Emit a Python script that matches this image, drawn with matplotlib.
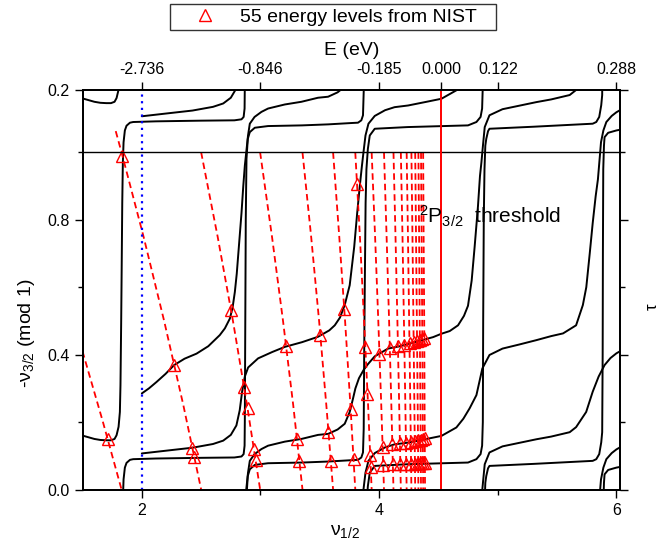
import matplotlib
matplotlib.use("Agg")
import matplotlib.pyplot as plt
from matplotlib.lines import Line2D
import numpy as np

plt.rcParams['font.family'] = ['Liberation Sans', 'DejaVu Sans']
plt.rcParams['mathtext.fontset'] = 'custom'
plt.rcParams['mathtext.rm'] = 'Liberation Sans'
plt.rcParams['mathtext.it'] = 'Liberation Sans:italic'
plt.rcParams['mathtext.default'] = 'regular'

# black MQDT curves, -nu_3/2 (unwrapped, shown mod 1)
b_nu = [1.50, 1.55, 1.60, 1.65, 1.70, 1.74, 1.77, 1.787, 1.804, 1.815, 1.820, 1.826, 1.830, 1.835,
        1.840, 1.846, 1.857, 1.871, 1.90, 1.927, 2.12, 2.50, 2.78, 2.84, 2.858, 2.866, 2.868, 2.872,
        2.876, 2.882, 2.893, 2.91, 2.952, 3.064, 3.35, 3.57, 3.767, 3.822, 3.85, 3.864, 3.870, 3.874,
        3.879, 3.886, 3.893, 3.905, 3.921, 3.963, 4.24, 4.749, 4.82, 4.855, 4.868, 4.874, 4.877,
        4.882, 4.888, 4.895, 4.903, 4.918, 4.93, 5.30, 5.80, 5.83, 5.855, 5.872, 5.880, 5.884,
        5.886, 5.889, 5.895, 5.90, 5.93, 6.00, 6.03]
b_val = [0.160, 0.155, 0.150, 0.147, 0.146, 0.146, 0.150, 0.161, 0.186, 0.230, 0.310, 0.500, 0.650,
         0.850, 0.970, 1.030, 1.065, 1.079, 1.088, 1.090, 1.092, 1.094, 1.095, 1.098, 1.105, 1.130,
         1.200, 1.500, 1.800, 1.980, 2.040, 2.060, 2.073, 2.078, 2.080, 2.083, 2.087, 2.088, 2.095,
         2.110, 2.180, 2.400, 2.600, 2.850, 2.950, 3.010, 3.050, 3.070, 3.075, 3.080, 3.090, 3.105,
         3.130, 3.200, 3.500, 3.800, 3.950, 4.020, 4.040, 4.063, 4.070, 4.076, 4.085, 4.090, 4.105,
         4.140, 4.170, 4.400, 4.700, 4.950, 5.020, 5.045, 5.058, 5.065, 5.067]

s1_nu = [2.00, 2.20, 2.427, 2.60, 2.686, 2.75, 2.797, 2.825, 2.845, 2.868, 2.896, 2.98, 3.10, 3.205,
         3.35, 3.485, 3.58, 3.626, 3.67, 3.71, 3.752, 3.79, 3.815, 3.837, 3.855, 3.868, 3.885, 3.91,
         3.963, 4.05, 4.13, 4.244, 4.40, 4.525, 4.651, 4.71, 4.763, 4.82, 4.87, 4.93, 5.04, 5.18,
         5.325, 5.45, 5.55, 5.66, 5.717, 5.746, 5.775, 5.80, 5.825, 5.844, 5.87, 5.89, 5.915, 5.96,
         6.00, 6.03]
s1_val = [0.107, 0.115, 0.124, 0.135, 0.145, 0.162, 0.190, 0.235, 0.290, 0.335, 0.362, 0.389, 0.408,
          0.423, 0.437, 0.453, 0.472, 0.487, 0.510, 0.547, 0.606, 0.720, 0.820, 0.900, 0.960, 1.000,
          1.050, 1.085, 1.108, 1.125, 1.134, 1.139, 1.150, 1.159, 1.184, 1.210, 1.241, 1.280, 1.359,
          1.399, 1.418, 1.430, 1.443, 1.455, 1.463, 1.487, 1.547, 1.600, 1.700, 1.790, 1.870, 1.920,
          2.030, 2.065, 2.090, 2.108, 2.119, 2.125]

s2_nu = [2.00, 2.06, 2.124, 2.20, 2.272, 2.36, 2.461, 2.56, 2.657, 2.70, 2.742, 2.765, 2.784, 2.80,
         2.82, 2.84, 2.855, 2.868, 2.88, 2.895, 2.91, 2.95, 3.008, 3.064, 3.205, 3.345, 3.485, 3.57,
         3.65, 3.71, 3.752, 3.78, 3.80, 3.83, 3.87, 3.906, 3.963, 4.075, 4.174, 4.30, 4.455, 4.525,
         4.595, 4.665, 4.715, 4.749, 4.78, 4.805, 4.833, 4.85, 4.862, 4.875, 4.89, 4.93, 5.04, 5.325,
         5.45, 5.606, 5.66, 5.745, 5.80, 5.85, 5.90, 5.95, 6.00, 6.03]
s2_val = [0.285, 0.300, 0.319, 0.343, 0.369, 0.388, 0.403, 0.425, 0.458, 0.478, 0.507, 0.540, 0.586,
          0.640, 0.730, 0.820, 0.900, 0.960, 1.000, 1.050, 1.085, 1.105, 1.120, 1.130, 1.142, 1.150,
          1.162, 1.165, 1.178, 1.195, 1.230, 1.270, 1.300, 1.330, 1.355, 1.372, 1.395, 1.418, 1.425,
          1.437, 1.452, 1.462, 1.470, 1.487, 1.515, 1.545, 1.620, 1.720, 1.840, 1.930, 1.970, 2.020,
          2.075, 2.110, 2.128, 2.149, 2.157, 2.170, 2.185, 2.230, 2.290, 2.335, 2.369, 2.390, 2.404,
          2.410]

# red dashed branches (-nu_3/2 mod 1 at fixed energy), x at the levels below
red_levels = [1.0, 0.75, 0.5, 0.25, 0.0]
red_x = [
    [1.829, 2.0145, 2.188, 2.350, 2.500],
    [2.500, 2.639, 2.768, 2.887, 2.997],
    [2.997, 3.097, 3.190, 3.276, 3.354],
    [3.354, 3.427, 3.494, 3.555, 3.612],
    [3.612, 3.664, 3.713, 3.758, 3.799],
    [3.799, 3.838, 3.873, 3.907, 3.937],
    [3.937, 3.966, 3.993, 4.018, 4.041],
    [4.041, 4.063, 4.084, 4.103, 4.121],
    [4.121, 4.138, 4.154, 4.169, 4.183],
    [4.183, 4.197, 4.209, 4.221, 4.232],
    [4.232, 4.243, 4.253, 4.263, 4.272],
    [4.272, 4.281, 4.289, 4.297, 4.304],
    [4.304, 4.311, 4.318, 4.325, 4.331],
    [4.331, 4.337, 4.342, 4.348, 4.353],
    [4.353, 4.358, 4.363, 4.367, 4.371],
    [4.371, 4.375, 4.380, 4.383, 4.387],
]
red_first_x = [1.50, 1.67, 1.829]
red_first_y = [0.41, 0.203, 0.0]
red_top_x = [1.78, 1.829]
red_top_y = [1.063, 1.0]

# NIST levels
tri_nu = [1.711, 1.829, 2.273, 2.426, 2.442, 2.751, 2.862, 2.891, 2.944, 2.959,
          3.216, 3.307, 3.327, 3.504, 3.573, 3.593, 3.703, 3.760, 3.785,
          3.814, 3.883, 3.901, 3.925, 3.929, 4.002, 4.029, 4.034,
          4.090, 4.111, 4.116, 4.158, 4.175, 4.178, 4.212, 4.226, 4.229,
          4.256, 4.267, 4.269, 4.291, 4.300, 4.302, 4.320, 4.327, 4.329,
          4.343, 4.350, 4.351, 4.363, 4.369, 4.370, 4.381, 4.385, 4.386]
tri_val = [0.150, 0.990, 0.369, 0.124, 0.097, 0.532, 0.303, 0.241, 0.120, 0.087,
           0.425, 0.150, 0.085, 0.458, 0.171, 0.085, 0.535, 0.239, 0.090,
           0.905, 0.423, 0.282, 0.102, 0.068, 0.403, 0.125, 0.072,
           0.420, 0.135, 0.075, 0.425, 0.137, 0.076, 0.430, 0.139, 0.076,
           0.434, 0.142, 0.077, 0.437, 0.144, 0.077, 0.440, 0.146, 0.078,
           0.443, 0.148, 0.078, 0.446, 0.150, 0.079, 0.449, 0.152, 0.079]

e_nu = [2, 3, 4, 4.523, 5, 6]
e_labels = ['-2.736', '-0.846', '-0.185', '0.000', '0.122', '0.288']
y_ticks = [0.0, 0.4, 0.8, 1.185]
y_labels = ['0.0', '0.4', '0.8', '0.2']
threshold_nu = 4.523

fig = plt.figure(figsize=(6.59, 5.45), dpi=100)
ax = fig.add_axes([0.1252, 0.1018, 0.8156, 0.7331])
ax.set_xlim(1.5, 6.03)
ax.set_ylim(0, 1.185)

for nu, val in [(b_nu, b_val), (s1_nu, s1_val), (s2_nu, s2_val)]:
    val = np.array(val)
    for k in range(-1, 7):
        ax.plot(nu, val - k, color='black', lw=1.4, solid_capstyle='round')

red_kw = dict(color='red', lw=1.3, dashes=(3.6, 2.2))
ax.plot(red_first_x, red_first_y, **red_kw)
for xs in red_x:
    if xs[0] == red_top_x[-1]:
        ax.plot(red_top_x + xs, red_top_y + red_levels, **red_kw)
    else:
        ax.plot(xs, red_levels, **red_kw)

ax.plot(tri_nu, tri_val, ls='none', marker='^', ms=8, mfc='none', mec='red', mew=1.0)

ax.axhline(1.0, color='black', lw=1.0)
ax.axvline(2.0, color='blue', lw=1.6, dashes=(1, 2))
ax.axvline(threshold_nu, color='red', lw=1.4)

ax.text(4.334, 0.789, r'$^{2}$P$_{3/2}$  threshold', fontsize=15)

ax.set_xticks([2, 4, 6])
ax.set_xticks([3, 5], minor=True)
ax.set_yticks(y_ticks)
ax.set_yticklabels(y_labels)
ax.set_yticks([0.2, 0.6, 1.0], minor=True)
ax.tick_params(which='major', direction='out', length=6, width=1, labelsize=11.5)
ax.tick_params(which='minor', direction='out', length=3.5, width=1)
ax.set_xlabel(r'$\nu_{1/2}$', fontsize=14)
ax.xaxis.set_label_coords(0.488, -0.085)
ax.set_ylabel(r'-$\nu_{3/2}$ (mod 1)', fontsize=14)
ax.yaxis.set_label_coords(-0.085, 0.39)

ax2 = ax.twiny()
ax2.set_xlim(ax.get_xlim())
ax2.set_xticks(e_nu)
ax2.set_xticklabels(e_labels)
ax2.tick_params(direction='out', length=6, width=1, labelsize=11.5)
ax2.set_xlabel('E (eV)', fontsize=14, labelpad=5)

ax3 = ax.twinx()
ax3.set_ylim(ax.get_ylim())
ax3.set_yticks(y_ticks)
ax3.set_yticklabels([])
ax3.set_yticks([0.2, 0.6, 1.0], minor=True)
ax3.tick_params(which='major', direction='out', length=6, width=1)
ax3.tick_params(which='minor', direction='out', length=3.5, width=1)
ax3.set_ylabel('τ', fontsize=12)
ax3.yaxis.set_label_coords(1.046, 0.457)

for a in (ax, ax2, ax3):
    for s in a.spines.values():
        s.set_linewidth(1.2)

handle = Line2D([], [], ls='none', marker='^', ms=9, mfc='none', mec='red', mew=1.0)
leg = fig.legend([handle], ['55 energy levels from NIST   '], loc='upper center',
                 bbox_to_anchor=(0.505, 0.999), fontsize=14, frameon=True, fancybox=False,
                 edgecolor='black', handlelength=3.2, handletextpad=0.2, borderpad=0.2,
                 borderaxespad=0.2)
leg.get_frame().set_linewidth(1.0)

fig.savefig('out.png', dpi=100)
